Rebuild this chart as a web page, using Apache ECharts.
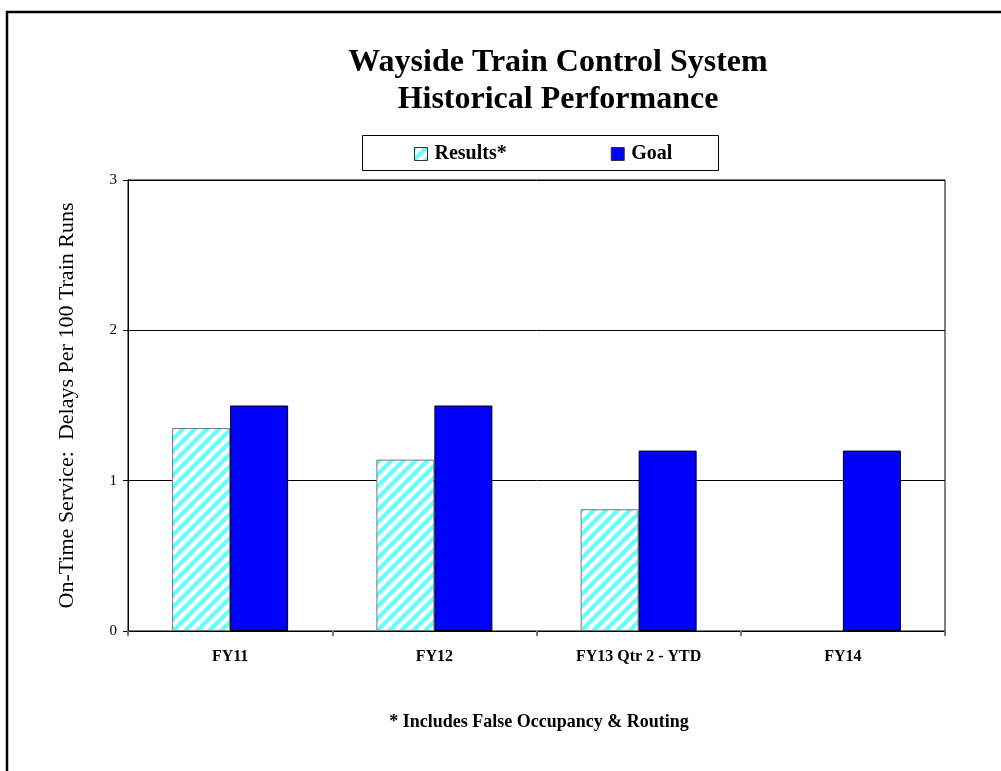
<!DOCTYPE html>
<html>
<head>
<meta charset="utf-8">
<script src="https://cdn.jsdelivr.net/npm/echarts@6/dist/echarts.min.js"></script>
<style>
html,body{margin:0;padding:0;background:#fff;}
#chart{width:1001px;height:771px;}
</style>
</head>
<body>
<div id="chart"></div>
<script>
const categories = ['FY11', 'FY12', 'FY13 Qtr 2 - YTD', 'FY14'];
const resultsValues = [1.35, 1.14, 0.81, null];
const goalValues = [1.5, 1.5, 1.2, 1.2];
const titleLines = ['Wayside Train Control System', 'Historical Performance'];
const yAxisName = 'On-Time Service:  Delays Per 100 Train Runs';
const footnote = '* Includes False Occupancy & Routing';

function makeHatch() {
  const s = 12;
  const c = document.createElement('canvas');
  c.width = s; c.height = s;
  const ctx = c.getContext('2d');
  ctx.fillStyle = '#ffffff';
  ctx.fillRect(0, 0, s, s);
  ctx.strokeStyle = '#66ffff';
  ctx.lineWidth = 4.2;
  for (let k = 0; k <= 2; k++) {
    const cc = k * s;
    ctx.beginPath();
    ctx.moveTo(cc + 2, -2);
    ctx.lineTo(-2, cc + 2);
    ctx.stroke();
  }
  return c;
}
const hatch = makeHatch();
const serif = '"Liberation Serif", "Times New Roman", serif';

const chart = echarts.init(document.getElementById('chart'), null, {renderer: 'canvas'});
chart.setOption({
  animation: false,
  backgroundColor: '#ffffff',
  title: {
    text: titleLines.join('\n'),
    left: 553,
    top: 39,
    textAlign: 'center',
    textStyle: {fontFamily: serif, fontWeight: 'bold', fontSize: 32, color: '#000', lineHeight: 37}
  },
  legend: {
    left: 414,
    top: 144,
    padding: 0,
    itemWidth: 13,
    itemHeight: 13,
    itemGap: 104,
    icon: 'rect',
    textStyle: {fontFamily: serif, fontWeight: 'bold', fontSize: 20, color: '#000', padding: [0, 0, 0, 2]},
    data: [
      {name: 'Results*', itemStyle: {borderColor: '#333', borderWidth: 1}},
      {name: 'Goal', itemStyle: {borderColor: '#333', borderWidth: 1}}
    ]
  },
  grid: {
    left: 128, right: 56, top: 180, bottom: 140,
    show: true, borderColor: '#000', borderWidth: 1, backgroundColor: 'transparent'
  },
  xAxis: {
    type: 'category',
    data: categories,
    axisLine: {lineStyle: {color: '#000', width: 1}},
    axisTick: {show: true, length: 5, lineStyle: {color: '#777', width: 2}},
    axisLabel: {fontFamily: serif, fontWeight: 'bold', fontSize: 16, color: '#000', margin: 18}
  },
  yAxis: {
    type: 'value',
    min: 0, max: 3, interval: 1,
    name: yAxisName,
    nameLocation: 'middle',
    nameGap: 50,
    nameTextStyle: {fontFamily: serif, fontSize: 22, color: '#000'},
    axisLine: {show: true, lineStyle: {color: '#000', width: 1}},
    axisTick: {show: true, length: 5, lineStyle: {color: '#000'}},
    axisLabel: {fontFamily: serif, fontSize: 15, color: '#000', margin: 11},
    splitLine: {show: true, lineStyle: {color: '#000', width: 1}}
  },
  series: [
    {
      name: 'Results*',
      type: 'bar',
      data: resultsValues,
      barWidth: 58,
      barGap: '0%',
      itemStyle: {color: {image: hatch, repeat: 'repeat'}, borderColor: '#777', borderWidth: 1}
    },
    {
      name: 'Goal',
      type: 'bar',
      data: goalValues,
      barWidth: 58,
      itemStyle: {color: '#0000ff', borderColor: '#000', borderWidth: 1}
    }
  ],
  graphic: [
    {type: 'rect', shape: {x: 362.5, y: 135.5, width: 356, height: 35}, style: {fill: 'none', stroke: '#000', lineWidth: 1}, z: 0},
    {type: 'line', shape: {x1: 6, y1: 12, x2: 1001, y2: 12}, style: {stroke: '#000', lineWidth: 2.5}},
    {type: 'line', shape: {x1: 7, y1: 11, x2: 7, y2: 771}, style: {stroke: '#000', lineWidth: 2.5}},
    {type: 'text', x: 539, y: 722, style: {text: footnote, fontFamily: serif, fontWeight: 'bold', fontSize: 18, fill: '#000', textAlign: 'center', textVerticalAlign: 'middle'}}
  ]
});
</script>
</body>
</html>
